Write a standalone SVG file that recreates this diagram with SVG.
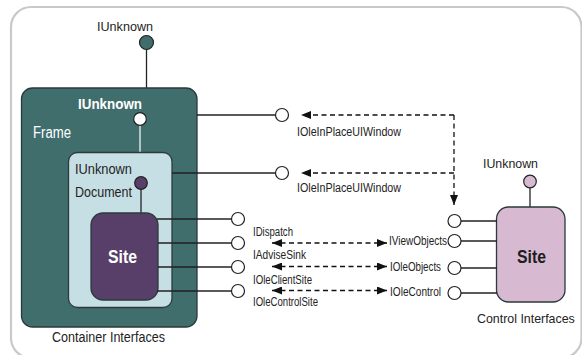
<svg xmlns="http://www.w3.org/2000/svg" width="582" height="355" viewBox="0 0 582 355">
  <defs>
    <marker id="arrow" viewBox="0 0 10 8" refX="10" refY="4" markerWidth="10" markerHeight="8" markerUnits="userSpaceOnUse" orient="auto-start-reverse">
      <path d="M0,0 L10,4 L0,8 Z" fill="#111"/>
    </marker>
    <style>
      text { font-family: "Liberation Sans Narrow", "Liberation Sans", Arial, sans-serif; fill: #232323; }
      .lbl { font-size: 12px; }
      .cap { font-size: 14px; }
      .wire { stroke: #222; stroke-width: 1.3; fill: none; }
      .dash { stroke: #111; stroke-width: 1.3; fill: none; stroke-dasharray: 5 3.5; }
      .port { fill: #fff; stroke: #222; stroke-width: 1.2; }
      .box { stroke: #2c3a3a; stroke-width: 1.3; }
    </style>
  </defs>

  <!-- outer panel (runs past the right and bottom edges) -->
  <rect x="11" y="7" width="570.5" height="351" rx="20" fill="#fff" stroke="#c9c9c9" stroke-width="2.2"/>

  <!-- container side -->
  <g id="frame">
    <text x="97" y="31" style="font-size:13.5px" textLength="56" lengthAdjust="spacingAndGlyphs">IUnknown</text>
    <line class="wire" x1="146.5" y1="49" x2="146.5" y2="88"/>
    <circle cx="146.5" cy="42.5" r="7" fill="#3f6e6d" stroke="#222" stroke-width="1.2"/>
    <rect class="box" x="21.5" y="88" width="175.5" height="239" rx="11" fill="#3f6e6d"/>
    <text x="78" y="109" style="font-size:15.5px;font-weight:bold;fill:#fff" textLength="64" lengthAdjust="spacingAndGlyphs">IUnknown</text>
    <text x="33" y="137.5" style="font-size:16px;fill:#fff" textLength="38" lengthAdjust="spacingAndGlyphs">Frame</text>
    <line x1="140" y1="125" x2="140" y2="153" stroke="#fff" stroke-width="1.2"/>
    <circle cx="140" cy="119" r="6.3" class="port"/>
  </g>

  <g id="document">
    <rect class="box" x="68.5" y="152.5" width="103.5" height="155" rx="9" fill="#c6dfe4"/>
    <text x="75" y="174" style="font-size:14.5px" textLength="57" lengthAdjust="spacingAndGlyphs">IUnknown</text>
    <text x="75" y="196.5" style="font-size:14.5px" textLength="57" lengthAdjust="spacingAndGlyphs">Document</text>
    <line class="wire" x1="141" y1="189" x2="141" y2="213"/>
    <circle cx="141" cy="183" r="6.3" fill="#573f69" stroke="#222" stroke-width="1.2"/>
  </g>

  <g id="container-site">
    <rect class="box" x="91" y="213" width="67" height="87" rx="12" fill="#573f69"/>
    <text x="108" y="263" style="font-size:18.5px;font-weight:bold;fill:#fff" textLength="29" lengthAdjust="spacingAndGlyphs">Site</text>
  </g>

  <text class="cap" x="52" y="342" textLength="113" lengthAdjust="spacingAndGlyphs">Container Interfaces</text>

  <!-- control side -->
  <g id="control-site">
    <text x="483" y="168" style="font-size:13.5px" textLength="55" lengthAdjust="spacingAndGlyphs">IUnknown</text>
    <line class="wire" x1="530" y1="188" x2="530" y2="207"/>
    <circle cx="530" cy="181.5" r="6.3" fill="#d7bad2" stroke="#222" stroke-width="1.2"/>
    <rect class="box" x="496.5" y="207" width="68.5" height="95" rx="12" fill="#d7bad2"/>
    <text x="517" y="263" style="font-size:18.5px;font-weight:bold;fill:#1e1e1e" textLength="29" lengthAdjust="spacingAndGlyphs">Site</text>
  </g>
  <text x="477" y="323" style="font-size:12.4px">Control Interfaces</text>

  <!-- interface ports and connectors -->
  <g id="connectors">
    <!-- frame / document in-place windows -->
    <line class="wire" x1="197" y1="115" x2="275.5" y2="115"/>
    <circle class="port" cx="282" cy="115" r="6.5"/>
    <line class="wire" x1="172" y1="173" x2="275.5" y2="173"/>
    <circle class="port" cx="282" cy="173" r="6.5"/>

    <!-- container site ports -->
    <line class="wire" x1="157" y1="219" x2="231.5" y2="219"/>
    <circle class="port" cx="238" cy="219" r="6.5"/>
    <line class="wire" x1="158" y1="243" x2="231.5" y2="243"/>
    <circle class="port" cx="238" cy="243" r="6.5"/>
    <line class="wire" x1="158" y1="267" x2="231.5" y2="267"/>
    <circle class="port" cx="238" cy="267" r="6.5"/>
    <line class="wire" x1="157" y1="291" x2="231.5" y2="291"/>
    <circle class="port" cx="238" cy="291" r="6.5"/>

    <!-- control site ports -->
    <line class="wire" x1="461" y1="221" x2="497" y2="221"/>
    <circle class="port" cx="454.5" cy="221" r="6.5"/>
    <line class="wire" x1="461" y1="241" x2="497" y2="241"/>
    <circle class="port" cx="454.5" cy="241" r="6.5"/>
    <line class="wire" x1="461" y1="268" x2="497" y2="268"/>
    <circle class="port" cx="454.5" cy="268" r="6.5"/>
    <line class="wire" x1="461" y1="293" x2="497" y2="293"/>
    <circle class="port" cx="454.5" cy="293" r="6.5"/>

    <!-- dashed calls -->
    <path class="dash" d="M454,115 L301,115" marker-end="url(#arrow)"/>
    <path class="dash" d="M454,173 L301,173" marker-end="url(#arrow)"/>
    <path class="dash" d="M454,115 L454,205" marker-end="url(#arrow)"/>
    <path class="dash" d="M272,243 L387,243" marker-start="url(#arrow)" marker-end="url(#arrow)"/>
    <path class="dash" d="M272,266.5 L387,266.5" marker-start="url(#arrow)" marker-end="url(#arrow)"/>
    <path class="dash" d="M272,290.5 L387,290.5" marker-start="url(#arrow)" marker-end="url(#arrow)"/>
  </g>

  <!-- interface names -->
  <g id="labels">
    <text class="lbl" x="297" y="136" textLength="104" lengthAdjust="spacingAndGlyphs">IOleInPlaceUIWindow</text>
    <text class="lbl" x="297" y="191.5" textLength="104" lengthAdjust="spacingAndGlyphs">IOleInPlaceUIWindow</text>
    <text class="lbl" x="253" y="235.5" textLength="40" lengthAdjust="spacingAndGlyphs">IDispatch</text>
    <text class="lbl" x="253" y="259" textLength="53" lengthAdjust="spacingAndGlyphs">IAdviseSink</text>
    <text class="lbl" x="253" y="283.5" textLength="59" lengthAdjust="spacingAndGlyphs">IOleClientSite</text>
    <text class="lbl" x="253" y="306" textLength="65" lengthAdjust="spacingAndGlyphs">IOleControlSite</text>
    <text class="lbl" x="389" y="245" textLength="58" lengthAdjust="spacingAndGlyphs">IViewObjects</text>
    <text class="lbl" x="390" y="271" textLength="51" lengthAdjust="spacingAndGlyphs">IOleObjects</text>
    <text class="lbl" x="390" y="295.5" textLength="51" lengthAdjust="spacingAndGlyphs">IOleControl</text>
  </g>
</svg>
